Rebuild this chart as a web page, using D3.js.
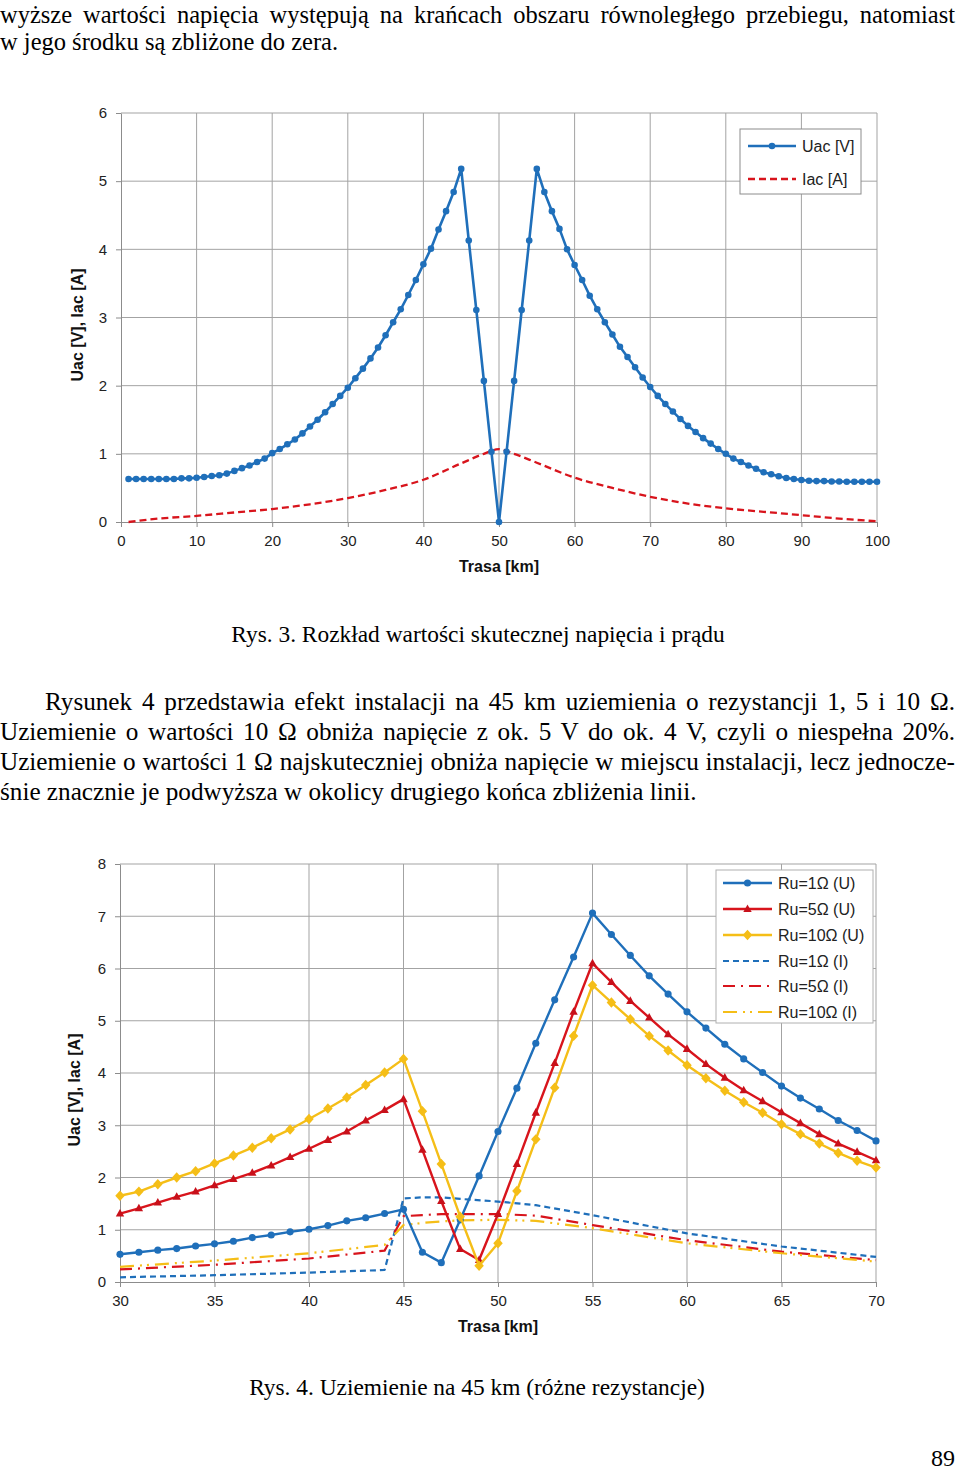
<!DOCTYPE html>
<html><head><meta charset="utf-8">
<script src="https://cdn.jsdelivr.net/npm/d3@7"></script>
<style>
body{margin:0;background:#fff;}
svg{display:block;}
</style></head>
<body>
<script>
// ---------------- DATA ----------------
const topLines = [
  "wyższe wartości napięcia występują na krańcach obszaru równoległego przebiegu, natomiast",
  "w jego środku są zbliżone do zera."
];
const caption3 = "Rys. 3. Rozkład wartości skutecznej napięcia i prądu";
const paraLines = [
  "Rysunek 4 przedstawia efekt instalacji na 45 km uziemienia o rezystancji 1, 5 i 10 Ω.",
  "Uziemienie o wartości 10 Ω obniża napięcie z ok. 5 V do ok. 4 V, czyli o niespełna 20%.",
  "Uziemienie o wartości 1 Ω najskuteczniej obniża napięcie w miejscu instalacji, lecz jednocze-",
  "śnie znacznie je podwyższa w okolicy drugiego końca zbliżenia linii."
];
const caption4 = "Rys. 4. Uziemienie na 45 km (różne rezystancje)";
const pageNumber = "89";

// Chart 1 (Rys. 3)
const c1XTicks = [0,10,20,30,40,50,60,70,80,90,100];
const c1YTicks = [0,1,2,3,4,5,6];
const c1Km = d3.range(1, 101);
const c1Uac = [
  0.63,0.63,0.63,0.63,0.63,0.63,0.63,0.64,0.64,0.65,
  0.66,0.675,0.685,0.71,0.75,0.79,0.83,0.88,0.93,1.01,
  1.07,1.14,1.21,1.30,1.40,1.50,1.61,1.73,1.85,1.97,
  2.11,2.25,2.40,2.56,2.74,2.93,3.12,3.33,3.55,3.78,
  4.01,4.29,4.56,4.84,5.18,4.13,3.11,2.07,1.03,0.00,
  1.03,2.07,3.11,4.13,5.18,4.84,4.56,4.30,4.00,3.77,
  3.55,3.32,3.12,2.93,2.75,2.57,2.42,2.27,2.12,1.98,
  1.85,1.73,1.62,1.51,1.41,1.32,1.23,1.15,1.07,1.00,
  0.93,0.88,0.83,0.78,0.73,0.70,0.67,0.645,0.63,0.615,
  0.605,0.60,0.60,0.595,0.595,0.59,0.59,0.59,0.59,0.59
];
const c1IacKm = [1,5,10,15,20,25,30,35,40,45,48,50,52,55,60,65,70,75,80,85,90,95,100];
const c1Iac   = [0.00,0.05,0.09,0.14,0.19,0.26,0.35,0.47,0.62,0.86,1.00,1.07,1.00,0.87,0.65,0.50,0.37,0.27,0.20,0.15,0.10,0.05,0.01];
const c1Legend = ["Uac [V]", "Iac [A]"];

// Chart 2 (Rys. 4)
const c2XTicks = [30,35,40,45,50,55,60,65,70];
const c2YTicks = [0,1,2,3,4,5,6,7,8];
const c2Km = d3.range(30, 71);
const c2U1 = [
  0.53,0.57,0.61,0.64,0.69,0.73,0.78,0.85,0.90,0.96,
  1.01,1.08,1.17,1.23,1.31,1.39,0.57,0.37,1.19,2.03,
  2.88,3.71,4.57,5.40,6.22,7.06,6.65,6.25,5.86,5.51,
  5.17,4.86,4.55,4.27,4.01,3.75,3.52,3.31,3.09,2.90,
  2.70];
const c2U5 = [
  1.31,1.41,1.52,1.63,1.73,1.85,1.97,2.09,2.23,2.39,
  2.55,2.72,2.88,3.09,3.29,3.50,2.53,1.55,0.63,0.42,
  1.30,2.26,3.24,4.19,5.17,6.10,5.74,5.38,5.06,4.74,
  4.46,4.17,3.91,3.67,3.46,3.25,3.04,2.83,2.65,2.49,
  2.33];
const c2U10 = [
  1.65,1.73,1.87,2.00,2.12,2.27,2.42,2.57,2.75,2.92,
  3.12,3.32,3.53,3.77,4.01,4.27,3.27,2.26,1.25,0.31,
  0.74,1.74,2.73,3.72,4.71,5.68,5.35,5.03,4.71,4.43,
  4.15,3.90,3.66,3.44,3.24,3.02,2.83,2.65,2.47,2.32,
  2.19];
const c2IKm = [30,35,40,44,45,46,47,48,50,52,55,60,65,70];
const c2I1  = [0.09,0.13,0.18,0.23,1.60,1.62,1.62,1.59,1.54,1.47,1.28,0.93,0.68,0.48];
const c2I5  = [0.24,0.33,0.45,0.60,1.26,1.28,1.30,1.30,1.30,1.27,1.09,0.80,0.58,0.42];
const c2I10 = [0.29,0.41,0.55,0.71,1.09,1.13,1.16,1.18,1.19,1.17,1.03,0.74,0.55,0.39];
const c2Legend = ["Ru=1Ω (U)","Ru=5Ω (U)","Ru=10Ω (U)","Ru=1Ω (I)","Ru=5Ω (I)","Ru=10Ω (I)"];

// ---------------- STYLE ----------------
const BLUE = "#1f6fba", RED = "#d8141c", YEL = "#f5be17";
const SERIF = "'Liberation Serif','Times New Roman',serif";
const SANS = "'Liberation Sans',Arial,sans-serif";
const GRID = "#a3a3a3";
const BODY = 25.2, CAP = 23.4;

const svg = d3.select("body").append("svg").attr("width", 960).attr("height", 1472);

function textLine(str, x, y, o = {}) {
  const t = svg.append("text").attr("x", x).attr("y", y)
    .attr("font-family", SERIF).attr("font-size", o.size || BODY).attr("fill", "#000").text(str);
  if (o.anchor) t.attr("text-anchor", o.anchor);
  if (o.justifyTo) {
    const len = t.node().getComputedTextLength();
    const n = (str.match(/ /g) || []).length;
    const target = o.justifyTo - x;
    if (len < target && n > 0) t.attr("word-spacing", (target - len) / n);
    else if (len > target) t.attr("textLength", target).attr("lengthAdjust", "spacingAndGlyphs");
  }
  return t;
}

// ---------------- TEXT ----------------
textLine(topLines[0], 0, 23, {justifyTo: 955, size: 24.5});
textLine(topLines[1], 0, 50, {size: 24.5});
textLine(caption3, 478, 642, {anchor: "middle", size: CAP});
textLine(paraLines[0], 45, 710, {justifyTo: 955});
textLine(paraLines[1], 0, 740, {justifyTo: 955});
textLine(paraLines[2], 0, 770, {justifyTo: 955});
textLine(paraLines[3], 0, 800);
textLine(caption4, 477, 1395, {anchor: "middle", size: CAP});
textLine(pageNumber, 955, 1466, {anchor: "end", size: 24});

// ---------------- CHART HELPERS ----------------
function frame(x, y, xt, yt, titleX, titleYpos) {
  const g = svg.append("g");
  const [x0, x1] = x.range(), [y0, y1] = y.range();
  g.selectAll(".vg").data(xt.slice(1)).join("line")
    .attr("x1", d => x(d)).attr("x2", d => x(d)).attr("y1", y0).attr("y2", y1)
    .attr("stroke", GRID).attr("stroke-width", 1);
  g.selectAll(".hg").data(yt.slice(1)).join("line")
    .attr("x1", x0).attr("x2", x1).attr("y1", d => y(d)).attr("y2", d => y(d))
    .attr("stroke", GRID).attr("stroke-width", 1);
  const ax = g.append("g").attr("transform", `translate(0,${y0})`)
    .call(d3.axisBottom(x).tickValues(xt).tickFormat(d3.format("d")).tickSize(5).tickPadding(8).tickSizeOuter(0));
  const ay = g.append("g").attr("transform", `translate(${x0},0)`)
    .call(d3.axisLeft(y).tickValues(yt).tickFormat(d3.format("d")).tickSize(5).tickPadding(9).tickSizeOuter(0));
  [ax, ay].forEach(a => {
    a.select(".domain").attr("stroke", "#8c8c8c");
    a.selectAll(".tick line").attr("stroke", "#8c8c8c");
    a.selectAll("text").attr("font-family", SANS).attr("font-size", 15).attr("fill", "#222");
  });
  g.append("text").attr("x", titleX[0]).attr("y", titleX[1]).attr("text-anchor", "middle")
    .attr("font-family", SANS).attr("font-size", 16).attr("font-weight", "bold").attr("fill", "#111")
    .text("Trasa [km]");
  g.append("text").attr("transform", `translate(${titleYpos[0]},${titleYpos[1]}) rotate(-90)`)
    .attr("text-anchor", "middle")
    .attr("font-family", SANS).attr("font-size", 16).attr("font-weight", "bold").attr("fill", "#111")
    .text("Uac [V], Iac [A]");
  return g;
}

const triType = {draw(ctx, size) { const r = Math.sqrt(size) / 2;
  ctx.moveTo(0, -r * 1.15); ctx.lineTo(r * 1.05, r * 0.75); ctx.lineTo(-r * 1.05, r * 0.75); ctx.closePath(); }};
const diaType = {draw(ctx, size) { const r = Math.sqrt(size) / 2;
  ctx.moveTo(0, -r * 1.1); ctx.lineTo(r, 0); ctx.lineTo(0, r * 1.1); ctx.lineTo(-r, 0); ctx.closePath(); }};

function series(g, x, y, xs, ys, o) {
  const pts = xs.map((k, i) => [k, ys[i]]);
  const line = d3.line().x(d => x(d[0])).y(d => y(d[1])).curve(o.curve || d3.curveLinear);
  g.append("path").datum(pts).attr("d", line).attr("fill", "none")
    .attr("stroke", o.color).attr("stroke-width", o.width || 2.4)
    .attr("stroke-dasharray", o.dash || null).attr("stroke-linejoin", "round");
  if (o.marker) {
    g.selectAll(null).data(pts).join("path")
      .attr("transform", d => `translate(${x(d[0])},${y(d[1])})`)
      .attr("d", d3.symbol().type(o.marker).size(o.msize || 40)).attr("fill", o.mfill || o.color);
  }
}

function legendItem(g, lx0, lx1, ly, label, o) {
  g.append("line").attr("x1", lx0).attr("x2", lx1).attr("y1", ly).attr("y2", ly)
    .attr("stroke", o.color).attr("stroke-width", o.width || 2.4).attr("stroke-dasharray", o.dash || null);
  if (o.marker) g.append("path").attr("transform", `translate(${(lx0 + lx1) / 2},${ly})`)
    .attr("d", d3.symbol().type(o.marker).size(o.msize || 40)).attr("fill", o.mfill || o.color);
  g.append("text").attr("x", lx1 + 6).attr("y", ly).attr("dy", "0.36em")
    .attr("font-family", SANS).attr("font-size", 16).attr("fill", "#222").text(label);
}

// ---------------- CHART 1 ----------------
{
  const x = d3.scaleLinear().domain([0, 100]).range([121, 877]);
  const y = d3.scaleLinear().domain([0, 6]).range([522, 113]);
  const g = frame(x, y, c1XTicks, c1YTicks, [499, 572], [83, 325]);
  const st = [
    {color: RED, width: 2.3, dash: "7,4", curve: d3.curveMonotoneX},
    {color: BLUE, width: 2.6, marker: d3.symbolCircle, msize: 34}
  ];
  series(g, x, y, c1IacKm, c1Iac, st[0]);
  series(g, x, y, c1Km, c1Uac, st[1]);
  g.append("rect").attr("x", 740).attr("y", 129).attr("width", 121).attr("height", 65)
    .attr("fill", "#fff").attr("stroke", "#8c8c8c");
  legendItem(g, 748, 796, 146, c1Legend[0], st[1]);
  legendItem(g, 748, 796, 179, c1Legend[1], st[0]);
}

// ---------------- CHART 2 ----------------
{
  const x = d3.scaleLinear().domain([30, 70]).range([120, 876]);
  const y = d3.scaleLinear().domain([0, 8]).range([1282, 864]);
  const g = frame(x, y, c2XTicks, c2YTicks, [498, 1332], [80, 1090]);
  const st = [
    {color: BLUE, width: 2.4, marker: d3.symbolCircle, msize: 40},
    {color: RED, width: 2.4, marker: triType, msize: 64, mfill: "#c8101a"},
    {color: YEL, width: 2.4, marker: diaType, msize: 90},
    {color: BLUE, width: 2.2, dash: "6,4"},
    {color: RED, width: 2.2, dash: "12,6,2,6"},
    {color: YEL, width: 2.2, dash: "14,6,2,5,2,6"}
  ];
  series(g, x, y, c2IKm, c2I1, st[3]);
  series(g, x, y, c2IKm, c2I5, st[4]);
  series(g, x, y, c2IKm, c2I10, st[5]);
  series(g, x, y, c2Km, c2U1, st[0]);
  series(g, x, y, c2Km, c2U5, st[1]);
  series(g, x, y, c2Km, c2U10, st[2]);
  g.append("rect").attr("x", 716).attr("y", 870).attr("width", 157).attr("height", 153)
    .attr("fill", "#fff").attr("stroke", "#b0b0b0");
  const ly = [883, 909, 935, 961, 986, 1012];
  c2Legend.forEach((lab, i) => legendItem(g, 723, 772, ly[i], lab, st[i]));
}
</script>
</body></html>
